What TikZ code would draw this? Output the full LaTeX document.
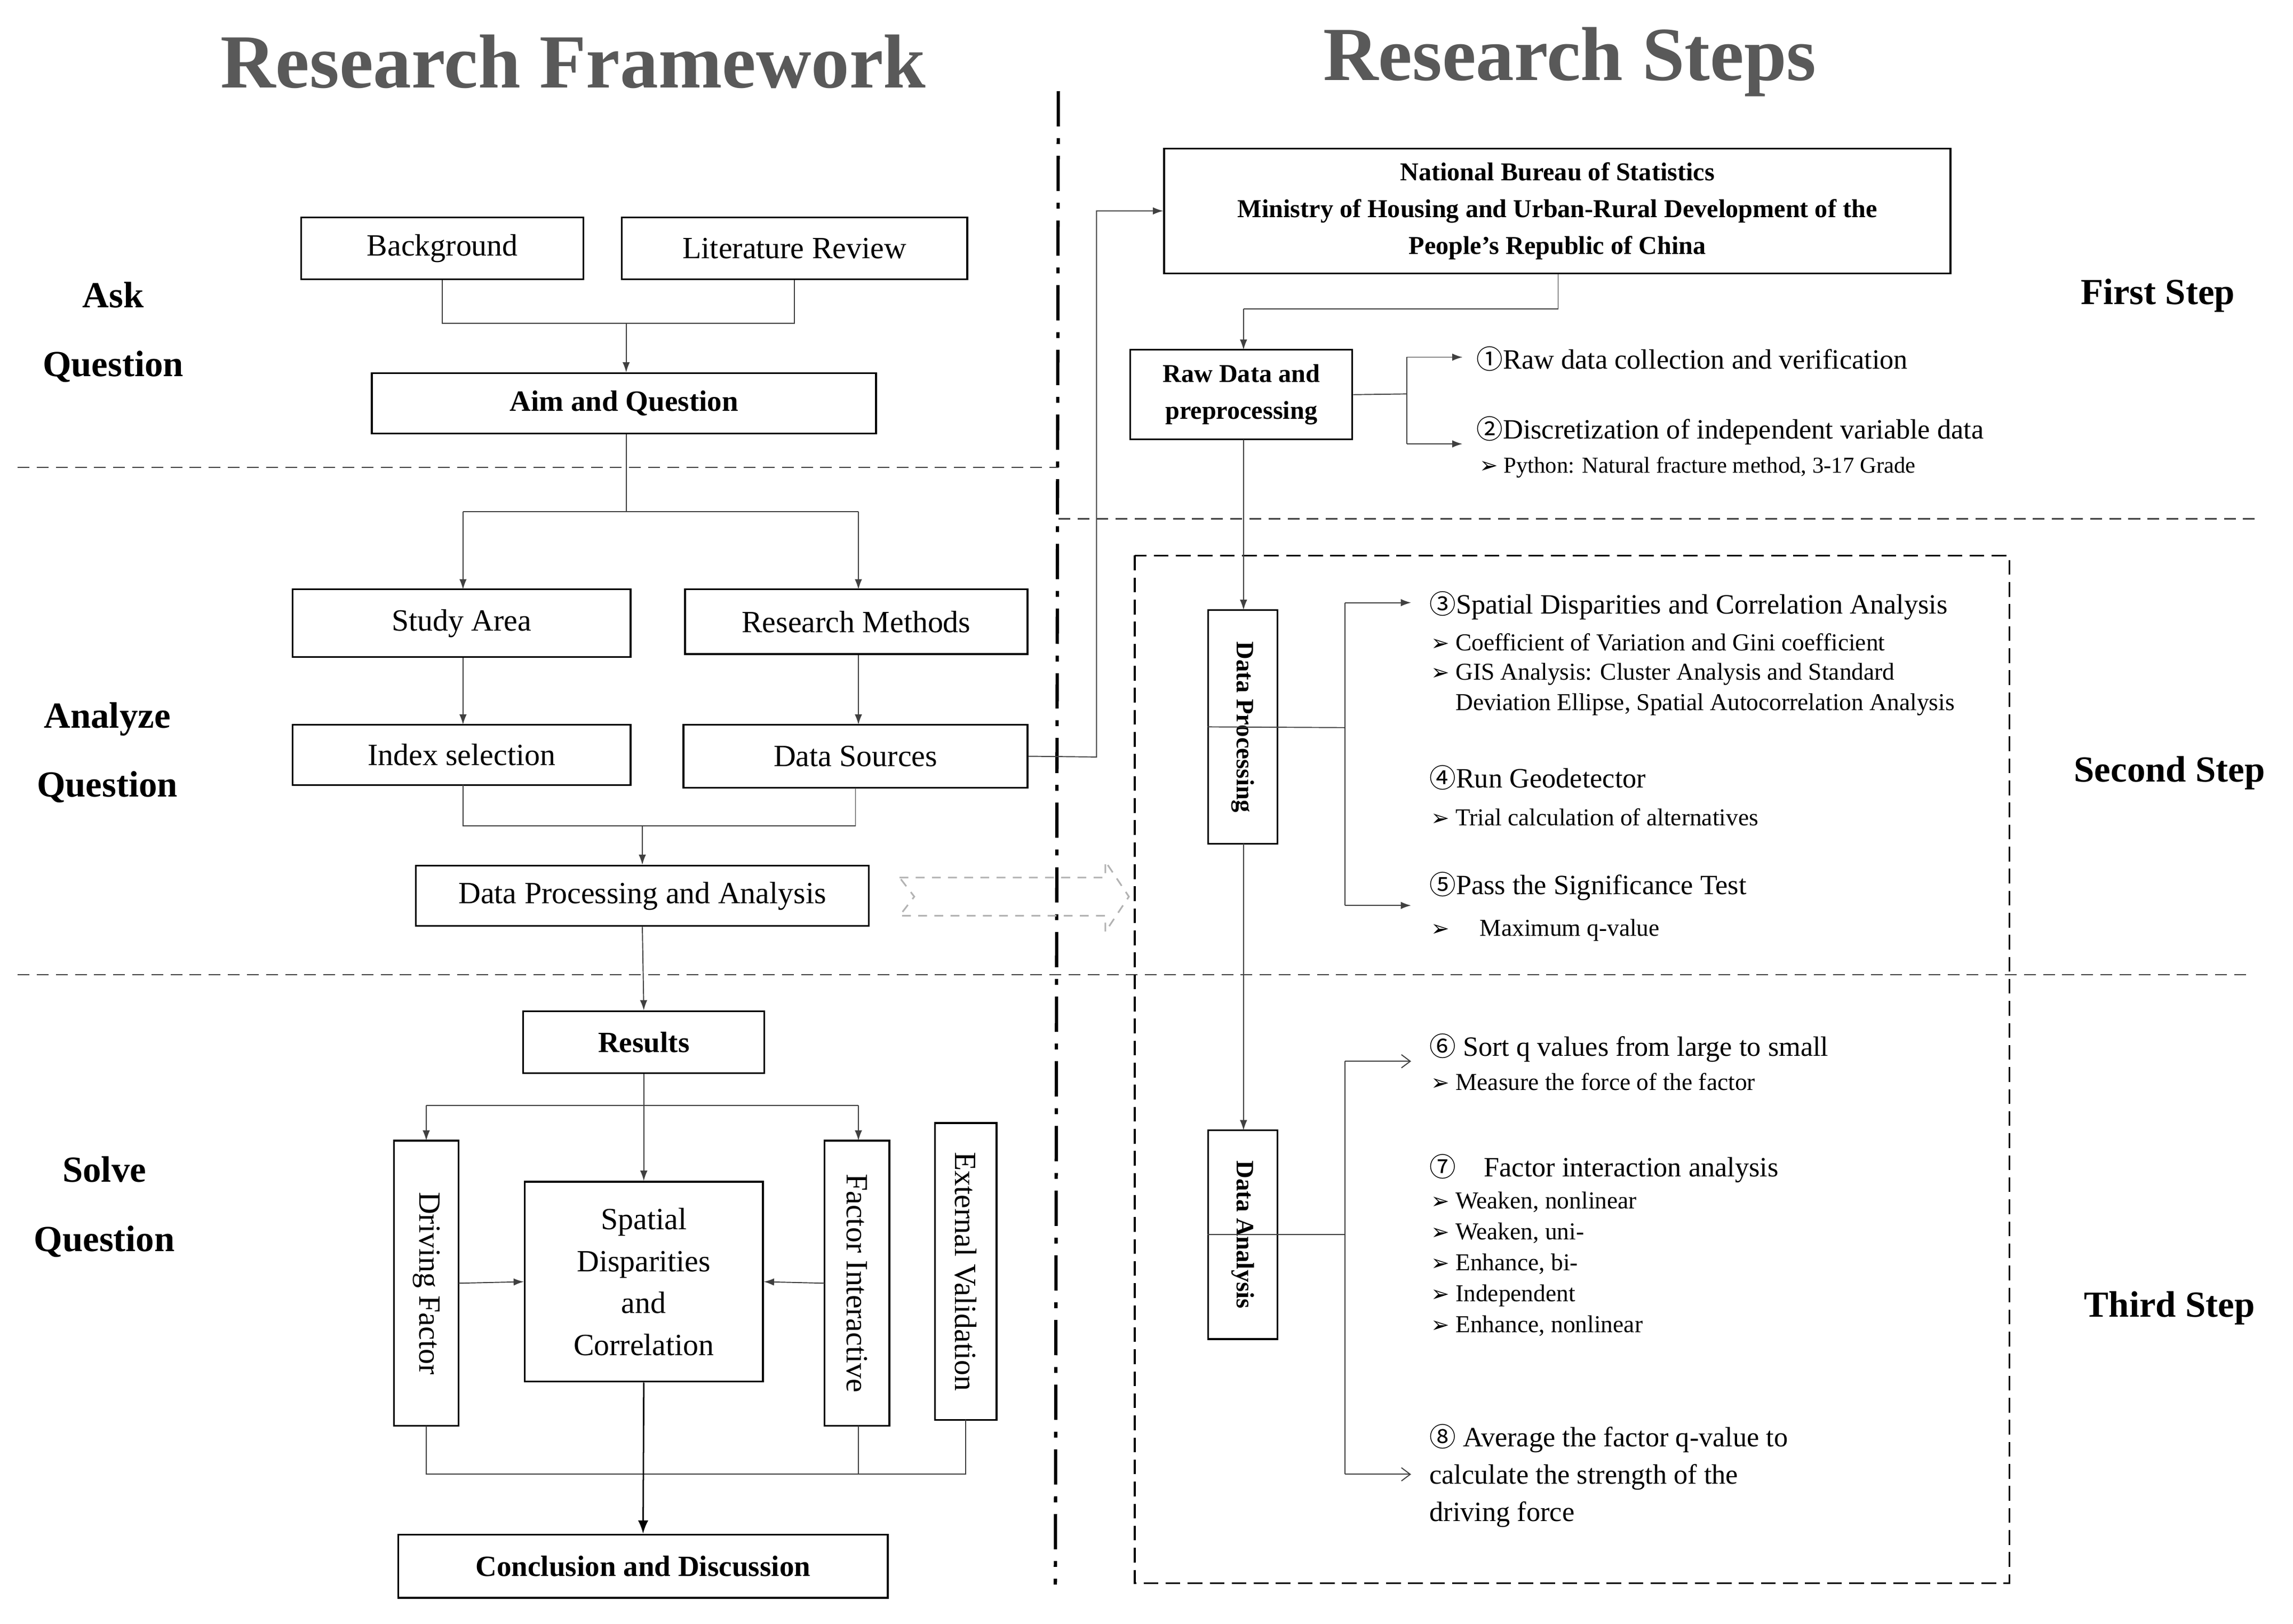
\documentclass[tikz,border=0pt]{standalone}
\usepackage{fontspec}
\setmainfont{Liberation Serif}
\newfontfamily\cjk{Noto Sans CJK SC}
\newfontfamily\dvs{DejaVu Sans}
\usetikzlibrary{arrows.meta}
\newcommand{\cn}[1]{{\cjk\fontsize{18}{20}\selectfont #1}}
\newcommand{\bl}{{\dvs\fontsize{15}{14}\selectfont ➢}\ }
\begin{document}
\begin{tikzpicture}[x=1pt,y=-1pt,
  box/.style={draw,line width=1.2pt,inner sep=0pt,align=center,font=\fontsize{21}{25}\selectfont},
  bbox/.style={box,font=\fontsize{20}{24}\selectfont\bfseries},
  ln/.style={line width=0.7pt,draw=black!75},
  arr/.style={ln,-{Latex[length=7pt,width=5pt]}},
  oarr/.style={ln,-{Straight Barb[length=6pt,width=9pt]}},
  dsh/.style={line width=0.8pt,draw=black!75,dash pattern=on 8pt off 5pt},
  side/.style={font=\fontsize{25}{47}\selectfont\bfseries,align=center},
  rt/.style={anchor=west,font=\fontsize{19}{22}\selectfont},
  st/.style={anchor=west,font=\fontsize{16.5}{21}\selectfont},
  title/.style={font=\fontsize{52}{60}\selectfont\bfseries,text=black!65}]
\useasboundingbox (0,0) rectangle (1560,1104.5);
% titles
\node[title] (t1) at (390,42) {Research Framework};
\node[title] (t2) at (1068,42) {Research Steps};
% separators
\draw[line width=2.2pt,dash pattern=on 24pt off 8pt on 4pt off 8pt] (720,62) -- (718,1078);
\draw[dsh] (12,318) -- (720,318);
\draw[dsh] (720,353) -- (1535,353);
\draw[dsh] (12,663) -- (1530,663);
\draw[line width=1.1pt,dash pattern=on 10pt off 5pt] (772,378) rectangle (1367,1077);
% side labels
\node[side] (s1) at (77,226) {Ask\\Question};
\node[side] (s2) at (73,512) {Analyze\\Question};
\node[side] (s3) at (71,821) {Solve\\Question};
\node[side] (r1) at (1468,201) {First Step};
\node[side] (r2) at (1476,526) {Second Step};
\node[side] (r3) at (1476,890) {Third Step};
% left boxes
\node[box,minimum width=192pt,minimum height=42pt] (bg) at (301,169) {Background};
\node[box,minimum width=235pt,minimum height=42pt] (lr) at (540.5,169) {Literature Review};
\node[bbox,minimum width=343pt,minimum height=41pt] (aim) at (424.5,274.5) {Aim and Question};
\node[box,minimum width=230pt,minimum height=46pt] (sa) at (314,424) {Study Area};
\node[box,minimum width=233pt,minimum height=44pt] (rm) at (582.5,423) {Research Methods};
\node[box,minimum width=230pt,minimum height=41pt] (is) at (314,513.5) {Index selection};
\node[box,minimum width=234pt,minimum height=43pt] (ds) at (582,514.5) {Data Sources};
\node[box,minimum width=308pt,minimum height=41pt] (dpa) at (437,609.5) {Data Processing and Analysis};
\node[bbox,minimum width=164pt,minimum height=42pt] (res) at (438,709) {Results};
\node[box,minimum width=194pt,minimum height=44pt,rotate=-90] (df) at (290,873) {Driving Factor};
\node[box,minimum width=162pt,minimum height=136pt,font=\fontsize{21}{28.5}\selectfont] (sp) at (438,872) {Spatial\\Disparities\\and\\Correlation};
\node[box,minimum width=194pt,minimum height=44pt,rotate=-90] (fi) at (583,873) {Factor Interactive};
\node[box,minimum width=202pt,minimum height=42pt,rotate=-90] (ev) at (657,865) {External Validation};
\node[bbox,minimum width=333pt,minimum height=43pt] (cd) at (437.5,1065.5) {Conclusion and Discussion};
% left connectors
\coordinate (j1) at (426,220);
\draw[ln] (bg.south) |- (j1) -| (lr.south);
\draw[arr] (j1) -- (j1|-aim.north);
\coordinate (j2) at (426,348);
\draw[ln] (aim.south-|j2) -- (j2);
\draw[ln] (315,348) -- (584,348);
\draw[arr] (315,348) -- (315,401);
\draw[arr] (584,348) -- (584,401);
\draw[arr] (sa.south-|315,0) -- (315,493);
\draw[arr] (rm.south-|584,0) -- (584,493);
\coordinate (j3) at (437,562);
\draw[ln] (315,534) |- (j3) -| (582,536);
\draw[arr] (j3) -- (dpa.north);
\draw[arr] (dpa.south) -- (res.north);
\coordinate (j4) at (438,752);
\draw[ln] (res.south) -- (j4);
\draw[ln] (290,752) -- (584,752);
\draw[arr] (290,752) -- (290,776);
\draw[arr] (584,752) -- (584,776);
\draw[arr] (j4) -- (sp.north);
\draw[arr] (312,873) -- (sp.west);
\draw[arr] (561,873) -- (sp.east);
\draw[ln] (290,970) |- (657,1003) -- (657,966);
\draw[ln] (584,970) -- (584,1003);
\draw[line width=1pt,-{Latex[length=9pt,width=7pt]}] (sp.south) -- (cd.north);
% gray hollow arrow
\draw[draw=black!30,line width=1.1pt,dash pattern=on 6pt off 5pt] (612,597) -- (752,597) -- (752,586) -- (768,610) -- (752,634) -- (752,623) -- (612,623) -- (622,610) -- cycle;
% right side
\node[bbox,minimum width=535pt,minimum height=85pt,font=\fontsize{17.5}{25}\selectfont\bfseries] (nbs) at (1059.5,143.5) {National Bureau of Statistics\\Ministry of Housing and Urban-Rural Development of the\\People’s Republic of China};
\draw[arr] (ds.east) -- (746,515) |- (nbs.west);
\node[bbox,minimum width=151pt,minimum height=61pt,font=\fontsize{17.5}{25}\selectfont\bfseries] (raw) at (844.5,268.5) {Raw Data and\\preprocessing};
\coordinate (j6) at (1060,210);
\draw[ln] (nbs.south-|j6) -- (j6) -- (846,210);
\draw[arr] (846,210) -- (846,238);
\node[bbox,minimum width=159pt,minimum height=47pt,rotate=-90,font=\fontsize{17}{20}\selectfont\bfseries] (dp) at (845.5,494.5) {Data Processing};
\node[bbox,minimum width=142pt,minimum height=47pt,rotate=-90,font=\fontsize{17}{20}\selectfont\bfseries] (da) at (845.5,840) {Data Analysis};
\draw[arr] (846,299) -- (846,415);
\draw[arr] (846,574) -- (846,769);
% raw branches
\draw[ln] (raw.east) -- (957,268);
\draw[ln] (957,243) -- (957,302);
\draw[arr] (957,243) -- (995,243);
\draw[arr] (957,302) -- (995,302);
\node[rt] (a1) at (1001,244) {\cn{①}Raw data collection and verification};
\node[rt] (a2) at (1001,293) {\cn{②}Discretization of independent variable data};
\node[st,font=\fontsize{15.5}{20}\selectfont] (a2b) at (1003,318) {\bl Python: Natural fracture method, 3-17 Grade};
% dp branches
\draw[ln] (dp.south) -- (915,495);
\draw[ln] (915,410) -- (915,616);
\draw[arr] (915,410) -- (960,410);
\draw[arr] (915,616) -- (960,616);
\node[rt] (b3) at (969,412) {\cn{③}Spatial Disparities and Correlation Analysis};
\node[st] (b3a) at (970,437) {\bl Coefficient of Variation and Gini coefficient};
\node[st,align=left] (b3b) at (970,469) {\bl GIS Analysis: Cluster Analysis and Standard\\\phantom{\bl}Deviation Ellipse, Spatial Autocorrelation Analysis};
\node[rt] (b4) at (969,529) {\cn{④}Run Geodetector};
\node[st] (b4a) at (970,556) {\bl Trial calculation of alternatives};
\node[rt] (b5) at (969,603) {\cn{⑤}Pass the Significance Test};
\node[st] (b5a) at (970,633) {\bl\quad Maximum q-value};
% da branches
\draw[ln] (da.south) -- (915,840);
\draw[ln] (915,722) -- (915,1003);
\draw[oarr] (915,722) -- (960,722);
\draw[oarr] (915,1003) -- (960,1003);
\node[rt] (c6) at (969,713) {\cn{⑥} Sort q values from large to small};
\node[st] (c6a) at (970,736) {\bl Measure the force of the factor};
\node[rt] (c7) at (969,795) {\cn{⑦}\quad Factor interaction analysis};
\node[st,align=left] (c7a) at (970,860) {\bl Weaken, nonlinear\\\bl Weaken, uni-\\\bl Enhance, bi-\\\bl Independent\\\bl Enhance, nonlinear};
\node[rt,align=left,font=\fontsize{19}{25.5}\selectfont] (c8) at (969,1004) {\cn{⑧} Average the factor q-value to\\calculate the strength of the\\driving force};
\end{tikzpicture}
\end{document}
